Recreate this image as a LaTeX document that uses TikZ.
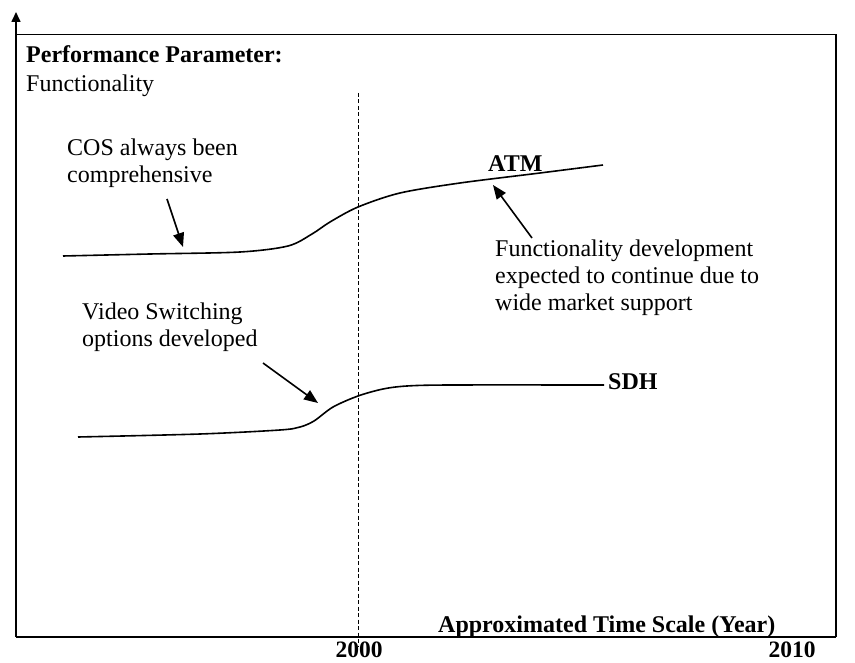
\documentclass[tikz,border=0pt]{standalone}
\usepackage{fontspec}
\setmainfont{Liberation Serif}
\usetikzlibrary{arrows.meta}
\begin{document}
\begin{tikzpicture}[x=1pt,y=-1pt,
  lbl/.style={anchor=base west,inner sep=0pt,font=\fontsize{24}{27}\selectfont},
  blbl/.style={lbl,font=\fontsize{24}{27}\selectfont\bfseries},
  yearlbl/.style={anchor=base,inner sep=0pt,font=\fontsize{23.5}{27}\selectfont\bfseries},
  axis/.style={line width=1.6pt},
  curve/.style={line width=1.6pt,line join=round},
  pointer/.style={line width=1.6pt,-{Triangle[length=14pt,width=11pt]}}]
\useasboundingbox (0,0) rectangle (855,663);

% frame and axes
\coordinate (o) at (16,637);
\coordinate (ytop) at (16,12);
\coordinate (tl) at (16,34.5);
\coordinate (tr) at (836,34.5);
\coordinate (br) at (836,637);
\draw[axis,-{Triangle[length=10pt,width=9pt]}] (o) -- (ytop);
\draw[line width=1.2pt] (tl) -- (tr) -- (br);
\draw[axis] (o) -- (br);

% year 2000 marker
\coordinate (dtop) at (358,93);
\coordinate (dbot) at (358,646);
\draw[line width=1pt,dash pattern=on 4pt off 2.5pt] (dtop) -- (dbot);

% labels
\node[blbl] (perf) at (26,63) {Performance Parameter:};
\node[lbl] (func) at (26,92) {Functionality};
\node[lbl] (cos1) at (67,156) {COS always been};
\node[lbl] (cos2) at (67,183) {comprehensive};
\node[blbl] (atm) at (488,172) {ATM};
\node[lbl] (fd1) at (495,257) {Functionality development};
\node[lbl] (fd2) at (495,284) {expected to continue due to};
\node[lbl] (fd3) at (495,311) {wide market support};
\node[lbl] (vs1) at (82,320) {Video Switching};
\node[lbl] (vs2) at (82,347) {options developed};
\node[blbl] (sdh) at (608,389) {SDH};
\node[blbl] (xlab) at (438,632) {Approximated Time Scale (Year)};
\node[yearlbl] (y2000) at (359,657) {2000};
\node[yearlbl] (y2010) at (792,657) {2010};

% ATM curve
\draw[curve] plot[smooth,tension=0.5] coordinates {(63,256) (150,254) (240,252) (288,246) (312,234) (330,222) (358,207) (400,193) (460,183) (540,173) (603,165)};
% SDH curve
\draw[curve] plot[smooth,tension=0.5] coordinates {(78,437) (200,434) (280,430) (300,427) (314,421) (333,407) (358,396) (383,389) (407,386) (450,385) (604,385)};

% pointers
\coordinate (cosA) at (167,199);
\coordinate (cosB) at (183,247);
\coordinate (atmA) at (532,238);
\coordinate (atmB) at (493,185);
\coordinate (vsA) at (263,363);
\coordinate (vsB) at (318,403);
\draw[pointer] (cosA) -- (cosB);
\draw[pointer] (atmA) -- (atmB);
\draw[pointer] (vsA) -- (vsB);
\end{tikzpicture}
\end{document}
